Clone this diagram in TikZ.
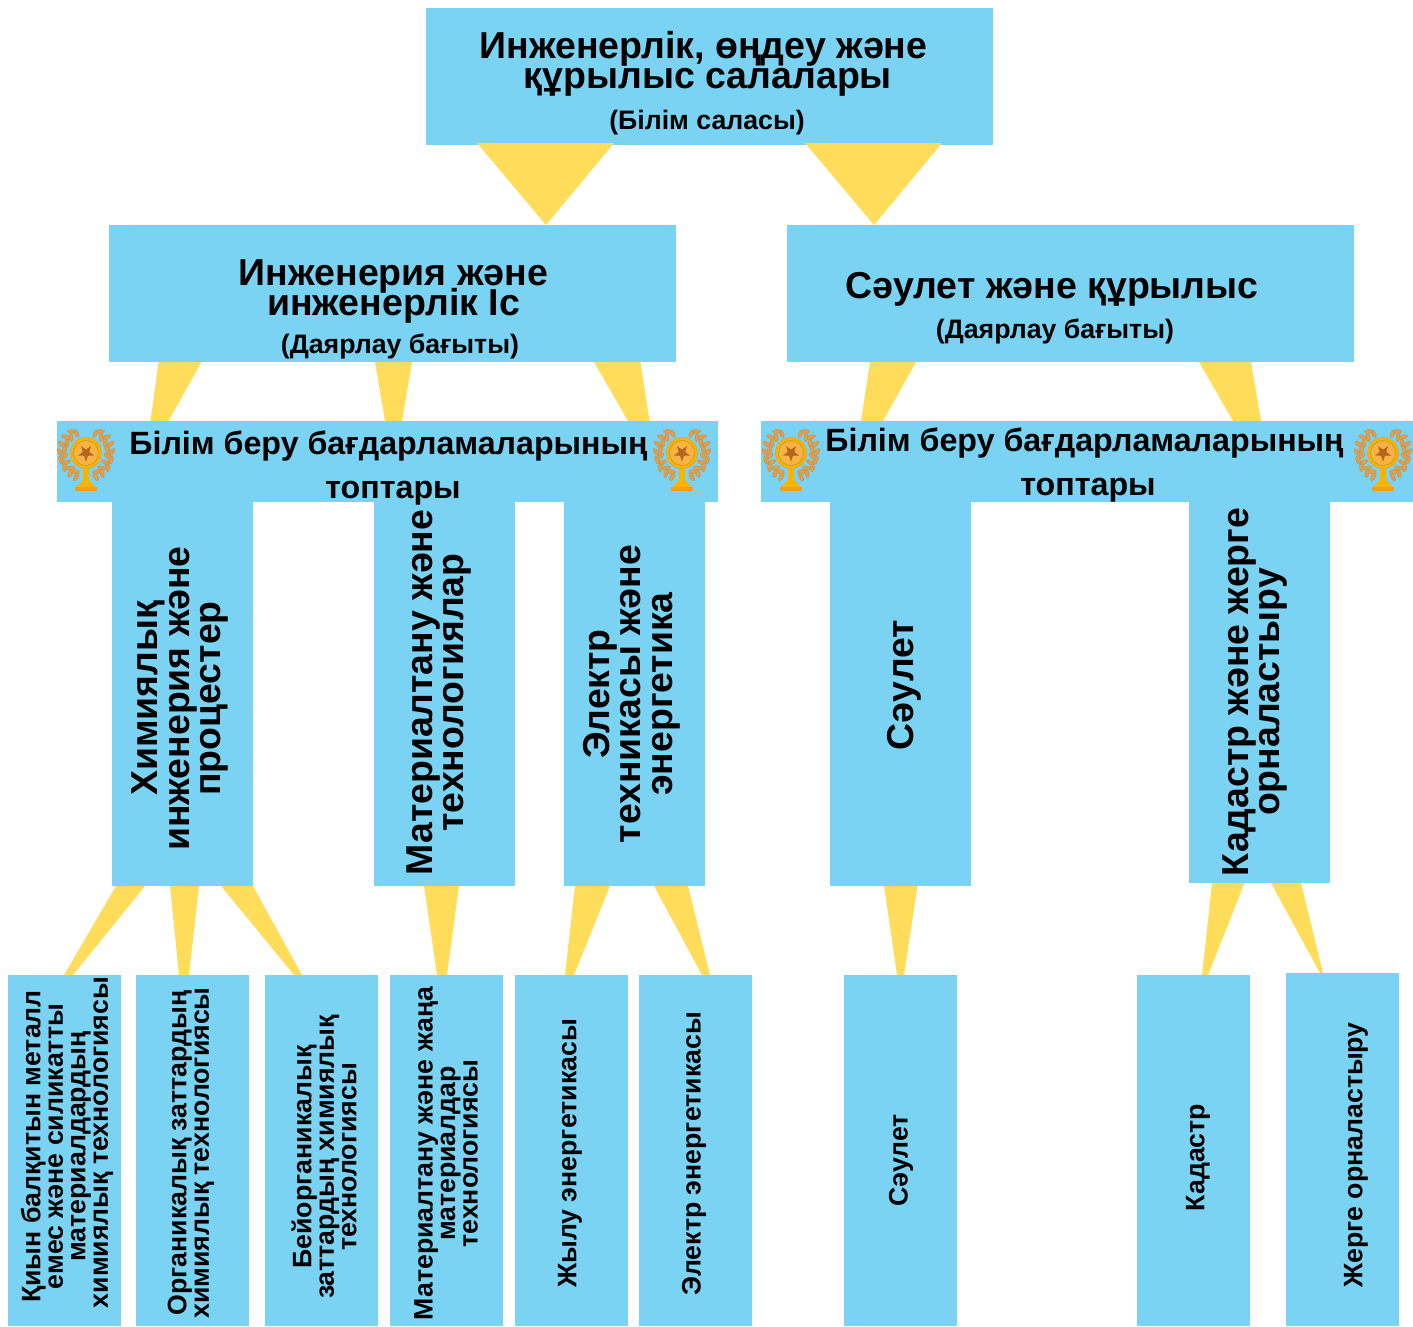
\documentclass[tikz,border=0pt]{standalone}
\usepackage{fontspec}
\setmainfont{Liberation Sans}
\usetikzlibrary{calc}
\pgfdeclarelayer{back}
\pgfsetlayers{back,main}
\definecolor{skyb}{HTML}{7BD3F3}
\definecolor{yell}{HTML}{FFDD5A}
\definecolor{leafc}{HTML}{E0A04A}
\definecolor{goldc}{HTML}{F7B500}
\definecolor{medalc}{HTML}{F5A623}
\definecolor{starc}{HTML}{B5651D}
\newcommand{\tightl}{\lineskiplimit=-100pt\relax}
\tikzset{
 box/.style={fill=skyb,draw=none,inner sep=0pt,outer sep=0pt,rectangle},
 txt/.style={inner sep=0pt,outer sep=0pt,align=center,text=black},
 fa/.style={txt,font=\fontsize{37.5}{30}\selectfont\bfseries\tightl},
 fb/.style={txt,font=\fontsize{26.7}{26}\selectfont\bfseries\tightl},
 fc/.style={txt,font=\fontsize{32.2}{44.5}\selectfont\bfseries\tightl},
 fd/.style={txt,rotate=90,font=\fontsize{37.4}{31.5}\selectfont\bfseries\tightl},
 fe/.style={txt,rotate=90,font=\fontsize{26.7}{22.5}\selectfont\bfseries\tightl},
 tri/.style={fill=yell,draw=none},
 lfs/.style={fill=leafc,draw=leafc!65!gray,line width=0.5pt}
}
% name, x0, y0, x1, y1
\newcommand{\boxnode}[5]{%
 \pgfmathsetmacro{\bw}{#4-#2}\pgfmathsetmacro{\bh}{#5-#3}%
 \node[box,minimum width=\bw pt,minimum height=\bh pt] (#1) at ({(#2+#4)/2},{(#3+#5)/2}) {};}
% from, x1, x2, to, x3, x4
\newcommand{\conn}[6]{%
 \coordinate (ca) at (#2,0);\coordinate (cb) at (#3,0);\coordinate (cc) at (#5,0);\coordinate (cd) at (#6,0);%
 \fill[tri] (ca |- #1.south) -- (cb |- #1.south) -- (cd |- #4.north) -- (cc |- #4.north) -- cycle;}
\newcommand{\trophy}[2]{%
 \begin{scope}[shift={(#1,#2)}]
  \foreach \s in {1,-1}{
   \begin{scope}[xscale=\s]
    \draw[leafc,line width=0.8pt] (62:24) arc[start angle=62,end angle=-66,radius=24];
    \foreach \a in {-64,-46,-28,-10,8,26,44,60}{
     \fill[lfs] (\a:21.5) ellipse[x radius=4.2,y radius=2,rotate=\a+125];
    }
    \foreach \a in {-56,-38,-20,-2,16,34,52,68}{
     \fill[lfs] (\a:26) ellipse[x radius=4.2,y radius=2,rotate=\a+55];
    }
   \end{scope}
  }
  \fill[goldc] (-3,14) -- (3,14) -- (3,27) -- (8,32) -- (11,36) -- (-11,36) -- (-8,32) -- (-3,27) -- cycle;
  \fill[medalc!70!orange] (-11,34) rectangle (11,38);
  \fill[goldc,draw=leafc,line width=0.6pt] (0,0) circle[radius=15.5];
  \fill[medalc!85!white,draw=goldc!80!black,line width=0.5pt] (0,0) circle[radius=12.5];
  \fill[starc] (90:8.5) -- (126:3.4) -- (162:8.5) -- (198:3.4) -- (234:8.5) -- (270:3.4) -- (306:8.5) -- (342:3.4) -- (18:8.5) -- (54:3.4) -- cycle;
 \end{scope}}
\begin{document}
\begin{tikzpicture}[x=1pt,y=-1pt]
\useasboundingbox (0,0) rectangle (1413,1326);
% boxes
\boxnode{root}{426}{8}{993}{145}
\boxnode{dirA}{109}{225}{676}{362}
\boxnode{dirB}{787}{225}{1354}{362}
\boxnode{barA}{57}{421}{718}{502}
\boxnode{barB}{761}{421}{1413}{502}
\boxnode{colA}{112}{502}{253}{886}
\boxnode{colB}{374}{502}{515}{886}
\boxnode{colC}{564}{502}{705}{886}
\boxnode{colD}{830}{502}{971}{886}
\boxnode{colE}{1189}{502}{1330}{883}
\boxnode{leafA}{8}{975}{121}{1326}
\boxnode{leafB}{136}{975}{249}{1326}
\boxnode{leafC}{265}{975}{378}{1326}
\boxnode{leafD}{390}{975}{503}{1326}
\boxnode{leafE}{515}{975}{628}{1326}
\boxnode{leafF}{639}{975}{752}{1326}
\boxnode{leafG}{844}{975}{957}{1326}
\boxnode{leafH}{1137}{975}{1250}{1326}
\boxnode{leafI}{1286}{973}{1399}{1326}
% connectors
\begin{pgfonlayer}{back}
\conn{dirA}{158.5}{201.5}{barA}{150.5}{168.5}
\conn{dirA}{375}{412}{barA}{385}{402}
\conn{dirA}{594}{640.5}{barA}{628}{649.5}
\conn{dirB}{870}{916}{barB}{861}{883}
\conn{dirB}{1199}{1251}{barB}{1233}{1261}
\conn{colA}{116}{145}{leafA}{64}{73}
\conn{colA}{170}{199}{leafB}{179}{189}
\conn{colA}{221}{253}{leafC}{294}{302}
\conn{colB}{424}{459}{leafD}{437}{447}
\conn{colC}{575}{610}{leafE}{565}{574}
\conn{colC}{654}{688}{leafF}{702}{710}
\conn{colD}{884}{917.5}{leafG}{897}{904}
\conn{colE}{1212}{1244.5}{leafH}{1202}{1208}
\conn{colE}{1271}{1301}{leafI}{1320}{1323}
\end{pgfonlayer}
\fill[tri] (477,143) -- (614,143) -- (546,225) -- cycle;
\fill[tri] (805,143) -- (942,143) -- (874,225) -- cycle;
% texts
\node[fa] (t1) at (703.5,64) {Инженерлік, өңдеу және\\\hspace*{9pt}құрылыс салалары};
\node[fb] (t2) at (707,123) {(Білім саласы)};
\node[fa] (t3) at (393.5,291) {Инженерия және\\инженерлік Іс};
\node[fb] (t4) at (400,346) {(Даярлау бағыты)};
\node[fa] (t5) at (1052,289) {Сәулет және құрылыс};
\node[fb] (t6) at (1055,331.5) {(Даярлау бағыты)};
\node[fc] (t7) at (388.5,468.2) {Білім беру бағдарламаларының\\\hspace*{9pt}топтары};
\node[fc] (t8) at (1084.5,465.2) {Білім беру бағдарламаларының\\\hspace*{7pt}топтары};
\node[fd] (t9) at (180.5,698.5) {Химиялық\\инженерия және\\процестер};
\node[fd] (t10) at (439,692.5) {Материалтану және\\технологиялар};
\node[fd] (t11) at (631.5,694) {Электр\\техникасы және\\энергетика};
\node[fd] (t12) at (904,685) {Сәулет};
\node[fd] (t13) at (1255,692) {Кадастр және жерге\\орналастыру};
\node[fe] (t14) at (67,1146.5) {Қиын балқитын металл\\емес және силикатты\\материалдардың\\\hspace*{8pt}химиялық технологиясы};
\node[fe] (t15) at (191,1153) {Органикалық заттардың\\химиялық технологиясы};
\node[fe] (t16) at (324,1157) {Бейорганикалық\\заттардың химиялық\\технологиясы};
\node[fe] (t17) at (446,1153.5) {Материалтану және жаңа\\материалдар\\технологиясы};
\node[fe] (t18) at (570,1153.5) {Жылу энергетикасы};
\node[fe] (t19) at (694,1153.5) {Электр энергетикасы};
\node[fe] (t20) at (901,1160.5) {Сәулет};
\node[fe] (t21) at (1198,1157.5) {Кадастр};
\node[fe] (t22) at (1356,1155) {Жерге орналастыру};
% emblems
\trophy{86}{453}
\trophy{682}{453}
\trophy{791}{453}
\trophy{1383}{453}
\end{tikzpicture}
\end{document}
